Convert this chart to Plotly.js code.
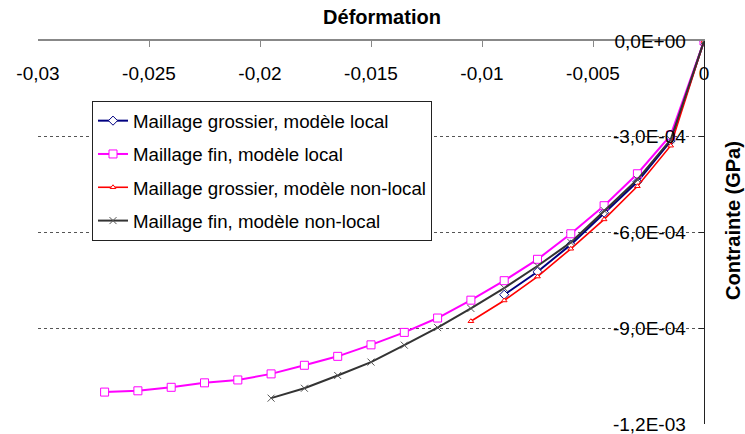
<!DOCTYPE html>
<html>
<head>
<meta charset="utf-8">
<script src="https://cdn.plot.ly/plotly-3.0.1.min.js"></script>
<style>html,body{margin:0;padding:0;background:#fff;}#chart{width:745px;height:434px;}</style>
</head>
<body>
<div id="chart"></div>
<script>
// Strain (Déformation) values
const xGrossierLocal = [0, -0.0015, -0.003, -0.0045, -0.006, -0.0075, -0.009];
const yGrossierLocal = [0, -3.13e-4, -4.41e-4, -5.38e-4, -6.38e-4, -7.23e-4, -7.95e-4];

const xFinLocal = [0, -0.0015, -0.003, -0.0045, -0.006, -0.0075, -0.009, -0.0105, -0.012, -0.0135,
                   -0.015, -0.0165, -0.018, -0.0195, -0.021, -0.0225, -0.024, -0.0255, -0.027];
const yFinLocal = [0, -2.95e-4, -4.16e-4, -5.16e-4, -6.04e-4, -6.84e-4, -7.51e-4, -8.12e-4, -8.68e-4, -9.13e-4,
                   -9.52e-4, -9.88e-4, -1.016e-3, -1.043e-3, -1.062e-3, -1.071e-3, -1.085e-3, -1.096e-3, -1.100e-3];

const xGrossierNonLocal = [0, -0.0015, -0.003, -0.0045, -0.006, -0.0075, -0.009, -0.0105];
const yGrossierNonLocal = [0, -3.28e-4, -4.55e-4, -5.59e-4, -6.51e-4, -7.38e-4, -8.13e-4, -8.78e-4];

const xFinNonLocal = [0, -0.0015, -0.003, -0.0045, -0.006, -0.0075, -0.009, -0.0105, -0.012, -0.0135,
                      -0.015, -0.0165, -0.018, -0.0195];
const yFinNonLocal = [0, -3.09e-4, -4.34e-4, -5.31e-4, -6.31e-4, -7.05e-4, -7.74e-4, -8.38e-4, -8.98e-4, -9.53e-4,
                      -1.006e-3, -1.048e-3, -1.088e-3, -1.119e-3];

const seriesNames = ["Maillage grossier, modèle local", "Maillage fin, modèle local",
                     "Maillage grossier, modèle non-local", "Maillage fin, modèle non-local"];

const xTickVals = [-0.03, -0.025, -0.02, -0.015, -0.01, -0.005, 0];
const xTickText = ["-0,03", "-0,025", "-0,02", "-0,015", "-0,01", "-0,005", "0"];
const yTickVals = [0, -3e-4, -6e-4, -9e-4, -1.2e-3];
const yTickText = ["0,0E+00", "-3,0E-04", "-6,0E-04", "-9,0E-04", "-1,2E-03"];

const chartTitle = "Déformation";
const yTitle = "Contrainte (GPa)";

const FONT = "Liberation Sans, Arial, sans-serif";

const traces = [
  {x: xGrossierLocal, y: yGrossierLocal, name: seriesNames[0], legendgroup: "g1",
   mode: "lines+markers", line: {color: "#000080", width: 2},
   marker: {symbol: "diamond", size: 7, color: "#ffffff", line: {color: "#000080", width: 1}}},
  {x: xFinLocal, y: yFinLocal, name: seriesNames[1], legendgroup: "g2",
   mode: "lines+markers", line: {color: "#ff00ff", width: 2},
   marker: {symbol: "square", size: 8, color: "#ffffff", line: {color: "#ff00ff", width: 1}}},
  {x: xGrossierNonLocal, y: yGrossierNonLocal, name: seriesNames[2], legendgroup: "g3",
   mode: "lines+markers", line: {color: "#ff0000", width: 1.6},
   marker: {symbol: "triangle-up", size: 5, color: "#ffffff", line: {color: "#ff0000", width: 1}}},
  {x: xFinNonLocal, y: yFinNonLocal, name: seriesNames[3], legendgroup: "g4",
   mode: "lines+markers", line: {color: "#333333", width: 2},
   marker: {symbol: "x-thin-open", size: 7, color: "#555555", line: {color: "#555555", width: 1}}}
];

const layout = {
  width: 745, height: 434,
  margin: {l: 38, r: 41, t: 41, b: 10, pad: 0},
  paper_bgcolor: "#ffffff", plot_bgcolor: "#ffffff",
  font: {family: FONT, size: 19, color: "#000000"},
  showlegend: true,
  title: {text: chartTitle, font: {family: FONT, size: 20, weight: "bold", color: "#000"},
          x: 382 / 745, xref: "container", xanchor: "center",
          y: 1 - 17 / 434, yref: "container", yanchor: "middle"},
  xaxis: {
    range: [-0.03, 0], side: "top", anchor: "y",
    showgrid: false, zeroline: false,
    showline: true, linecolor: "#888888", linewidth: 2,
    ticks: "inside", ticklen: 6, tickcolor: "#888888", tickwidth: 1,
    ticklabelposition: "inside", ticklabeloverflow: "allow", ticklabelstandoff: 21,
    tickvals: xTickVals, ticktext: xTickText,
    tickfont: {family: FONT, size: 19, color: "#000"}
  },
  yaxis: {
    range: [-1.2e-3, 0], side: "right",
    showgrid: true, gridcolor: "#555555", griddash: "dot", gridwidth: 1,
    zeroline: false,
    showline: true, linecolor: "#222222", linewidth: 1,
    ticks: "inside", ticklen: 5, tickcolor: "#222222", tickwidth: 1,
    ticklabelposition: "inside", ticklabeloverflow: "allow", ticklabelstandoff: 14,
    tickvals: yTickVals, ticktext: yTickText,
    tickfont: {family: FONT, size: 19, color: "#000"}
  },
  legend: {
    x: (92 - 38) / 666, y: 1 - (101 - 41) / 383, xanchor: "left", yanchor: "top",
    bgcolor: "#ffffff", bordercolor: "#222222", borderwidth: 1,
    font: {family: FONT, size: 18.7, color: "#000"},
    traceorder: "grouped", tracegroupgap: 6, itemwidth: 30
  },
  annotations: [{
    text: yTitle, textangle: -90, showarrow: false,
    xref: "paper", yref: "paper",
    x: (733 - 38) / 666, y: 1 - (221 - 41) / 383, xanchor: "center", yanchor: "middle",
    font: {family: FONT, size: 20, weight: "bold", color: "#000"}
  }]
};

Plotly.newPlot("chart", traces, layout, {displayModeBar: false, responsive: false});
</script>
</body>
</html>
